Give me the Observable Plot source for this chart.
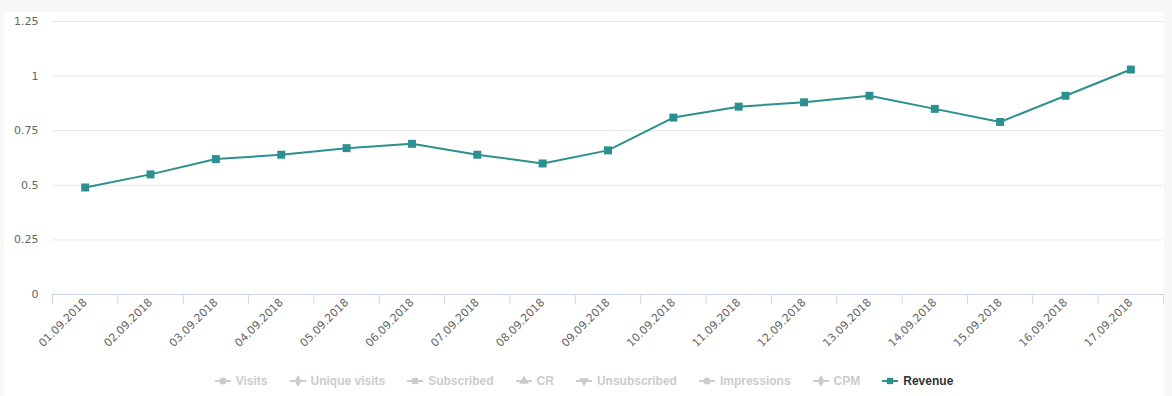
<!DOCTYPE html>
<html><head>
<meta charset="utf-8">
<script src="https://cdn.jsdelivr.net/npm/d3@7"></script>
<script src="https://cdn.jsdelivr.net/npm/@observablehq/plot@0.6"></script>
<style>
body{margin:0;background:#f7f7f7;width:1172px;height:396px;overflow:hidden;}
#panel{position:absolute;left:4px;top:12px;width:1160px;height:384px;background:#fff;}
#legend{display:flex;justify-content:center;gap:22px;font:bold 12px "Liberation Sans",sans-serif;color:#ccc;height:28px;align-items:center;}
.item{display:flex;align-items:center;gap:5px}
.item.on{color:#333}
</style></head>
<body>
<div id="panel"><div id="chart"></div><div id="legend"></div></div>
<script>
const dates = ["01.09.2018","02.09.2018","03.09.2018","04.09.2018","05.09.2018","06.09.2018","07.09.2018","08.09.2018","09.09.2018","10.09.2018","11.09.2018","12.09.2018","13.09.2018","14.09.2018","15.09.2018","16.09.2018","17.09.2018"];
const revenue = [0.49,0.55,0.62,0.64,0.67,0.69,0.64,0.60,0.66,0.81,0.86,0.88,0.91,0.85,0.79,0.91,1.03];
const yTicks = [0,0.25,0.5,0.75,1,1.25];
const seriesNames = ["Visits","Unique visits","Subscribed","CR","Unsubscribed","Impressions","CPM","Revenue"];
const seriesSymbols = ["circle","diamond","square","triangle","triangle-down","circle","diamond","square"];
const activeSeries = "Revenue";
const color = "#2b908f";

const idx = d3.range(dates.length);
const bounds = d3.range(dates.length + 1).map(i => i - 0.5);

const chart = Plot.plot({
  width: 1160,
  height: 355,
  marginLeft: 48,
  marginRight: 1,
  marginTop: 9,
  marginBottom: 73,
  style: {fontFamily: "DejaVu Sans", fontSize: "11px", background: "transparent", overflow: "visible"},
  x: {type: "linear", domain: [-0.5, dates.length - 0.5]},
  y: {domain: [0, 1.25]},
  marks: [
    Plot.gridY(yTicks.filter(d => d > 0), {stroke: "#e6e6e6", strokeOpacity: 1}),
    Plot.ruleY([0], {stroke: "#ccd6eb"}),
    Plot.axisX(bounds, {tickSize: 10, tickFormat: () => "", stroke: "#ccd6eb", strokeOpacity: 1}),
    Plot.axisX(idx, {tickSize: 0, tickPadding: 6, tickRotate: -45, tickFormat: i => dates[i], fill: "#666", label: null}),
    Plot.axisY(yTicks, {tickSize: 0, tickPadding: 14, tickFormat: d => String(d), fill: "#666", label: null}),
    Plot.line(revenue, {x: (d, i) => i, y: d => d, stroke: color, strokeWidth: 2}),
    Plot.dot(revenue, {x: (d, i) => i, y: d => d, symbol: "square", fill: color, r: 4.5})
  ]
});
document.getElementById("chart").appendChild(chart);

const legend = d3.select("#legend");
seriesNames.forEach((name, i) => {
  const on = name === activeSeries;
  const c = on ? color : "#ccc";
  const item = legend.append("div").attr("class", "item" + (on ? " on" : ""));
  const svg = item.append("svg").attr("width", 16).attr("height", 12);
  svg.append("line").attr("x1", 0).attr("x2", 16).attr("y1", 6).attr("y2", 6).attr("stroke", c).attr("stroke-width", 2);
  const sym = d3.symbol().type({circle: d3.symbolCircle, diamond: d3.symbolDiamond, square: d3.symbolSquare, triangle: d3.symbolTriangle, "triangle-down": d3.symbolTriangle}[seriesSymbols[i]]).size(40);
  svg.append("path").attr("d", sym()).attr("fill", c)
    .attr("transform", "translate(8,6)" + (seriesSymbols[i] === "triangle-down" ? " rotate(180)" : ""));
  item.append("span").text(name);
});
</script>
</body></html>
